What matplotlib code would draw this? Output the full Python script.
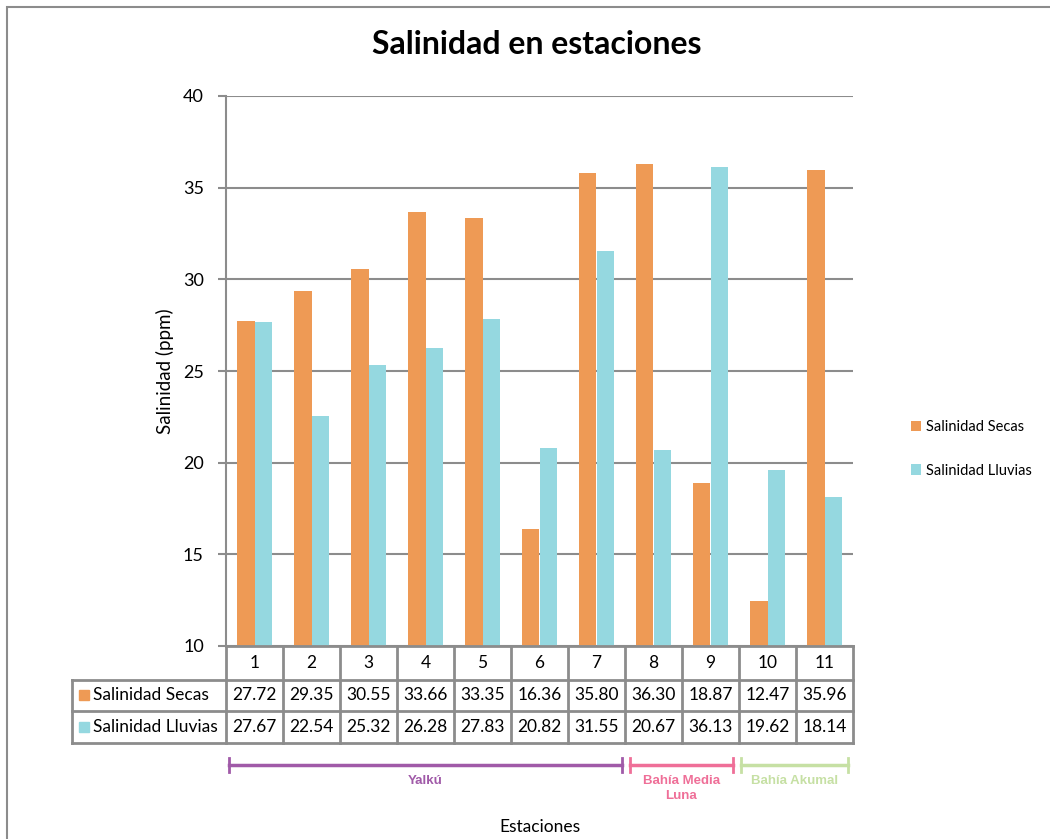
import matplotlib
matplotlib.use("Agg")
import matplotlib.pyplot as plt
from matplotlib.patches import Rectangle
import numpy as np

plt.rcParams['font.family'] = ['Lato', 'DejaVu Sans']

estaciones = ['1', '2', '3', '4', '5', '6', '7', '8', '9', '10', '11']
secas = [27.72, 29.35, 30.55, 33.66, 33.35, 16.36, 35.80, 36.30, 18.87, 12.47, 35.96]
lluvias = [27.67, 22.54, 25.32, 26.28, 27.83, 20.82, 31.55, 20.67, 36.13, 19.62, 18.14]
series_names = ['Salinidad Secas', 'Salinidad Lluvias']
grupos = ['Yalkú', 'Bahía Media\nLuna', 'Bahía Akumal']
grupo_rangos = [(-0.45, 6.45), (6.59, 8.39), (8.53, 10.41)]
grupo_colores = ['#A05AA8', '#EF6F98', '#C6E0A4']

c_secas = '#EE9A55'
c_lluvias = '#95D8E0'
gray = '#8C8C8C'

fig = plt.figure(figsize=(10.5, 8.39), dpi=100)
ax = fig.add_axes([226/1050, 1-646/839, (853-226)/1050, 550/839])

x = np.arange(len(estaciones))
w = 0.31
b1 = ax.bar(x - w/2, np.array(secas) - 10, w, bottom=10, color=c_secas, label=series_names[0], zorder=3)
b2 = ax.bar(x + w/2, np.array(lluvias) - 10, w, bottom=10, color=c_lluvias, label=series_names[1], zorder=3)

ax.set_xlim(-0.5, len(estaciones) - 0.5)
ax.set_ylim(10, 40)
ax.set_yticks([10, 15, 20, 25, 30, 35, 40])
ax.yaxis.grid(True, color=gray, lw=1.5, zorder=0)
ax.set_xticks([])
for s in ['top', 'right', 'bottom']:
    ax.spines[s].set_visible(False)
ax.spines['left'].set_color(gray)
ax.spines['left'].set_linewidth(1.5)
ax.tick_params(axis='y', colors=gray, length=6, width=1.5, labelsize=13, labelcolor='black', pad=10)

ax.set_ylabel('Salinidad (ppm)', fontsize=13.5, labelpad=6)

# Data table
trans = ax.get_xaxis_transform()
y_rows = [0, -(680-646)/550, -(711-646)/550, -(743-646)/550]
label_left = (72-226)/627
lw_t = 2
for i, yy in enumerate(y_rows):
    if i == 0:
        ax.plot([-0.5, 10.5], [yy, yy], transform=trans, color=gray, lw=lw_t, clip_on=False, zorder=4)
    else:
        ax.plot([label_left, 1], [yy, yy], transform=ax.transAxes, color=gray, lw=lw_t, clip_on=False)
for k in range(len(estaciones) + 1):
    ax.plot([k - 0.5, k - 0.5], [0, y_rows[-1]], transform=trans, color=gray, lw=lw_t, clip_on=False)
ax.plot([label_left, label_left], [y_rows[1], y_rows[-1]], transform=ax.transAxes, color=gray, lw=lw_t, clip_on=False)

for k, lab in enumerate(estaciones):
    ax.text(k, (y_rows[0] + y_rows[1]) / 2, lab, transform=trans, ha='center', va='center', fontsize=12.5)
    ax.text(k, (y_rows[1] + y_rows[2]) / 2, f'{secas[k]:.2f}', transform=trans, ha='center', va='center', fontsize=12.5)
    ax.text(k, (y_rows[2] + y_rows[3]) / 2, f'{lluvias[k]:.2f}', transform=trans, ha='center', va='center', fontsize=12.5)

for r, (name, col) in enumerate(zip(series_names, [c_secas, c_lluvias])):
    yc = (y_rows[r+1] + y_rows[r+2]) / 2
    ax.add_patch(Rectangle((label_left + 0.011, yc - 0.0085), 0.016, 0.018, transform=ax.transAxes,
                           color=col, clip_on=False))
    ax.text(label_left + 0.034, yc, name, transform=ax.transAxes, ha='left', va='center', fontsize=12.5)

# group brackets
yb = -(765-646)/550
tick_h = 0.012
for name, (a, bnd), col in zip(grupos, grupo_rangos, grupo_colores):
    ax.plot([a, bnd], [yb, yb], transform=trans, color=col, lw=2.5, clip_on=False)
    for xx in (a, bnd):
        ax.plot([xx, xx], [yb - tick_h, yb + tick_h], transform=trans, color=col, lw=2, clip_on=False)
    ax.text((a + bnd) / 2, -(775-646)/550, name, transform=trans, ha='center', va='top', fontsize=9.5,
            fontweight='bold', color=col, family=['Liberation Sans', 'DejaVu Sans'], linespacing=1.3)

ax.text(0.5, -(827-646)/550, 'Estaciones', transform=ax.transAxes, ha='center', va='center', fontsize=12.5)

fig.text(537/1050, 1-45/839, 'Salinidad en estaciones', ha='center', va='center', fontsize=23, fontweight='bold')

leg = fig.legend(handles=[b1, b2], loc='center left', bbox_to_anchor=(898/1050, 1-449/839), frameon=False,
                 fontsize=10.5, handlelength=0.7, handleheight=0.7, handletextpad=0.3, labelspacing=2.0)

fig.add_artist(Rectangle((7/1050, -0.1), 1.1, 1.1 - 7/839, transform=fig.transFigure,
                         fill=False, edgecolor=gray, lw=1.5))

fig.savefig('out.png', dpi=100)
